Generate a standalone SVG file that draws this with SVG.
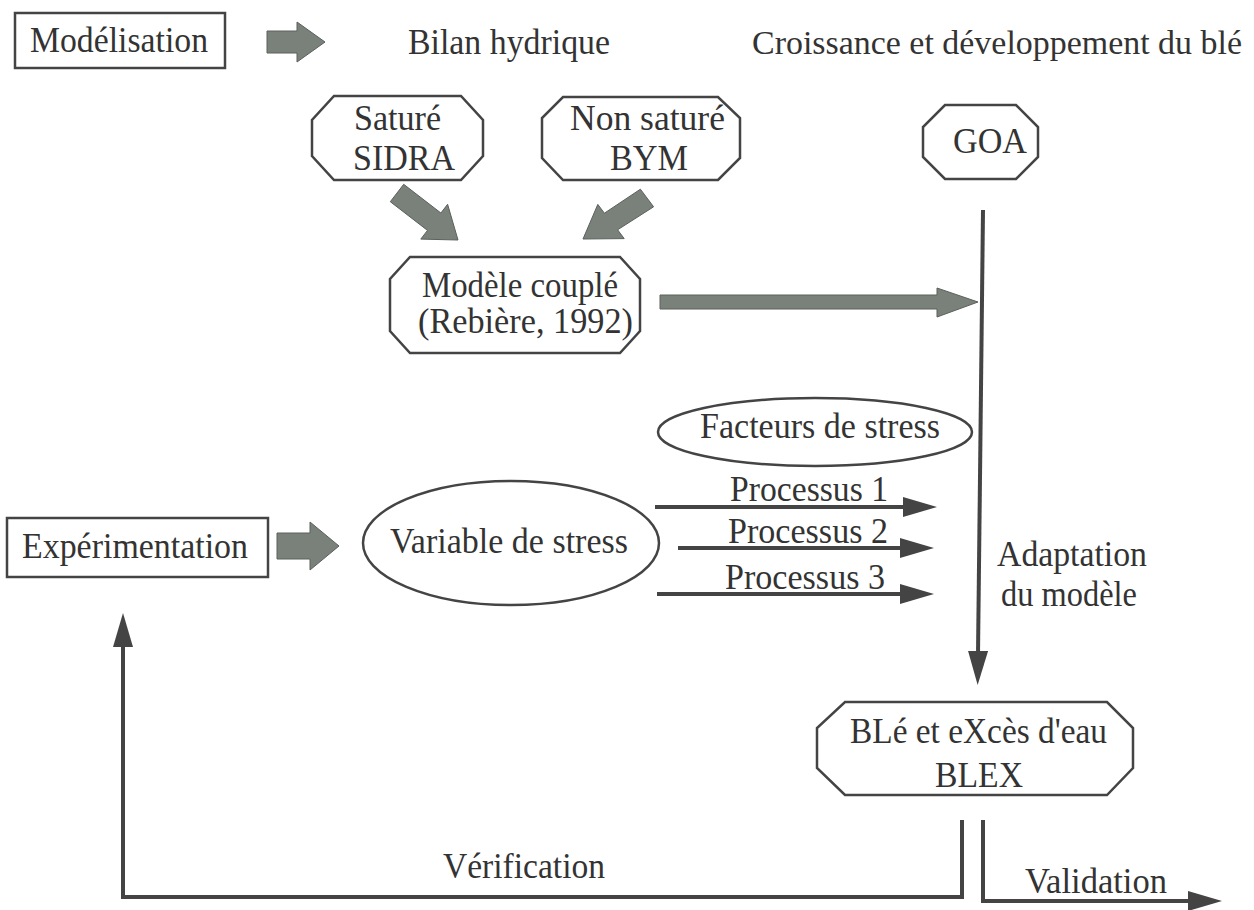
<svg xmlns="http://www.w3.org/2000/svg" width="1254" height="910" viewBox="0 0 1254 910" font-family="'Liberation Serif', 'DejaVu Serif', serif">
<style>
text{font-family:"Liberation Serif","DejaVu Serif",serif;font-size:36px;fill:#333;}
.box{fill:none;stroke:#444;stroke-width:2.5;}
.fat{fill:#7a817b;stroke:#5a605b;stroke-width:1;}
.ln{fill:none;stroke:#444;stroke-width:4;}
</style>
<defs>
<marker id="arr" viewBox="0 0 34 20" markerWidth="34" markerHeight="20" refX="4" refY="10" orient="auto" markerUnits="userSpaceOnUse">
<path d="M0,0 L34,10 L0,20 z" fill="#444"/>
</marker>
</defs>
<rect width="1254" height="910" fill="#fff"/>

<g id="modelisation">
<rect class="box" x="15" y="13" width="210" height="55"/>
<text x="30" y="52" textLength="178" lengthAdjust="spacingAndGlyphs">Modélisation</text>
</g>
<g id="headers">
<text x="408" y="54" textLength="202" lengthAdjust="spacingAndGlyphs">Bilan hydrique</text>
<text x="752" y="54" style="font-size:33px" textLength="490" lengthAdjust="spacingAndGlyphs">Croissance et développement du blé</text>
</g>
<g id="sature">
<polygon class="box" points="334,96 461,96 483,120 483,156 461,180 334,180 312,156 312,120"/>
<text x="354" y="130" textLength="87" lengthAdjust="spacingAndGlyphs">Saturé</text>
<text x="353" y="170" textLength="102" lengthAdjust="spacingAndGlyphs">SIDRA</text>
</g>
<g id="nonsature">
<polygon class="box" points="563,97 718,97 740,118 740,158 718,180 563,180 542,158 542,118"/>
<text x="570" y="130" textLength="155" lengthAdjust="spacingAndGlyphs">Non saturé</text>
<text x="610" y="170" textLength="78" lengthAdjust="spacingAndGlyphs">BYM</text>
</g>
<g id="goa">
<polygon class="box" points="945,105 1016,105 1038,127 1038,157 1016,179 945,179 923,157 923,127"/>
<text x="953" y="153" textLength="74" lengthAdjust="spacingAndGlyphs">GOA</text>
</g>
<g id="couple">
<polygon class="box" points="410,257 620,257 640,279 640,331 620,353 410,353 390,331 390,279"/>
<text x="422" y="297" textLength="196" lengthAdjust="spacingAndGlyphs">Modèle couplé</text>
<text x="418" y="333" textLength="215" lengthAdjust="spacingAndGlyphs">(Rebière, 1992)</text>
</g>
<g id="facteurs">
<ellipse class="box" cx="815" cy="432" rx="157" ry="34"/>
<text x="700" y="438" textLength="240" lengthAdjust="spacingAndGlyphs">Facteurs de stress</text>
</g>
<g id="variable">
<ellipse class="box" cx="511" cy="543" rx="148" ry="62"/>
<text x="390" y="553" textLength="238" lengthAdjust="spacingAndGlyphs">Variable de stress</text>
</g>
<g id="experimentation">
<rect class="box" x="7" y="518" width="261" height="59"/>
<text x="22" y="558" textLength="226" lengthAdjust="spacingAndGlyphs">Expérimentation</text>
</g>
<g id="blex">
<polygon class="box" points="845,702 1107,702 1133,728 1133,768 1107,795 845,795 817,768 817,728"/>
<text x="850" y="743" textLength="257" lengthAdjust="spacingAndGlyphs">BLé et eXcès d'eau</text>
<text x="935" y="787" textLength="88" lengthAdjust="spacingAndGlyphs">BLEX</text>
</g>

<g id="connectors">
<polygon class="fat" points="267,31 297,31 297,22 325,42 297,62 297,53 267,53"/>
<polygon class="fat" points="277,533 310,533 310,522 339,546 310,570 310,559 277,559"/>
<polygon class="fat" points="403.7,184.3 440.9,213 447.6,204.3 458,240 420.8,239.1 427.5,230.4 390.3,201.7"/>
<polygon class="fat" points="640.4,189.2 604.4,213.2 597.8,204.4 583,239 624.2,238.6 617.6,229.8 653.6,206.8"/>
<polygon class="fat" points="660,295 937,295 937,288 978,302 937,317 937,309 660,309"/>
<line class="ln" x1="983" y1="210" x2="978" y2="655" marker-end="url(#arr)"/>
<line class="ln" x1="655" y1="507" x2="907" y2="507" marker-end="url(#arr)"/>
<text x="730" y="501" textLength="158" lengthAdjust="spacingAndGlyphs">Processus 1</text>
<line class="ln" x1="678" y1="548" x2="904" y2="548" marker-end="url(#arr)"/>
<text x="728" y="543" textLength="160" lengthAdjust="spacingAndGlyphs">Processus 2</text>
<line class="ln" x1="657" y1="594" x2="904" y2="594" marker-end="url(#arr)"/>
<text x="725" y="589" textLength="160" lengthAdjust="spacingAndGlyphs">Processus 3</text>
<text x="997" y="566" textLength="150" lengthAdjust="spacingAndGlyphs">Adaptation</text>
<text x="1001" y="606" textLength="136" lengthAdjust="spacingAndGlyphs">du modèle</text>
<polyline class="ln" points="962,820 962,897 123,897 123,643" marker-end="url(#arr)"/>
<text x="443" y="878" textLength="162" lengthAdjust="spacingAndGlyphs">Vérification</text>
<polyline class="ln" points="983,820 983,901 1192,901" marker-end="url(#arr)"/>
<text x="1025" y="893" textLength="142" lengthAdjust="spacingAndGlyphs">Validation</text>
</g>
</svg>
